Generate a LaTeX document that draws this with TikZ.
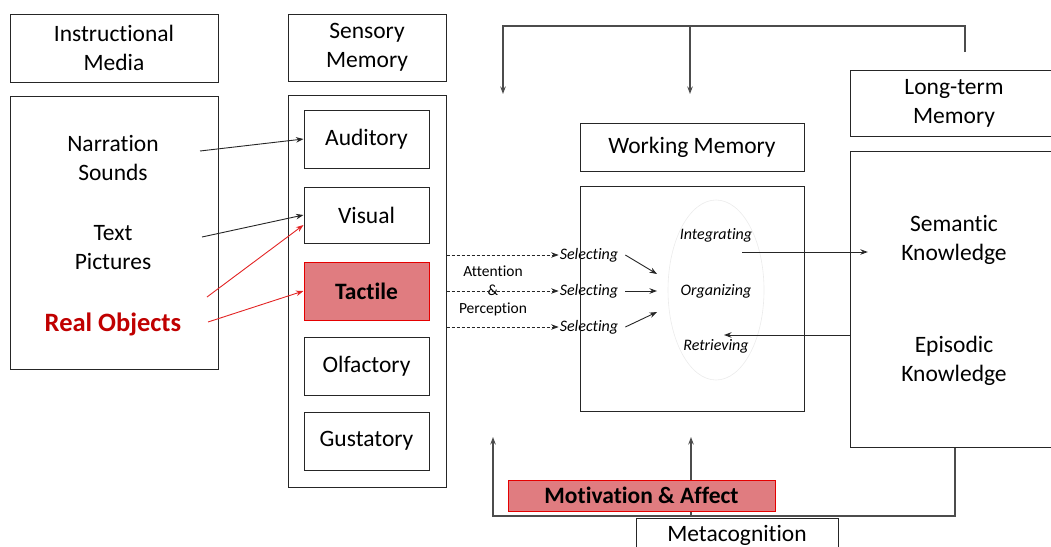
\documentclass[tikz,border=0pt]{standalone}
\usepackage{fontspec}
\setmainfont{Carlito}[Ligatures = NoCommon]
\usepackage{tikz}
\usetikzlibrary{arrows.meta, calc}
\definecolor{boxred}{RGB}{224,124,128}
\definecolor{darkred}{RGB}{192,0,0}
\definecolor{linered}{RGB}{226,36,36}
\tikzset{box/.style = {shape = rectangle, draw = black!85, line width = 1pt, inner sep = 0pt, align = center}}
\tikzset{redbox/.style = {box, draw = red!90!black, fill = boxred, font = \fontsize{23.5}{29}\selectfont\bfseries}}
\tikzset{label/.style = {align = center, inner sep = 1pt}}
\tikzset{small/.style = {align = center, inner sep = 1pt, font = \fontsize{15.5}{18.5}\selectfont}}
\tikzset{proc/.style = {small, font = \fontsize{16}{18.5}\selectfont\itshape}}
\tikzset{edge/.style = {-{Stealth[length = 7.5pt, width = 5.5pt]}, line width = 0.9pt, draw = black!85}}
\tikzset{rededge/.style = {edge, draw = linered}}
\tikzset{dashedge/.style = {edge, dashed, dash pattern = on 3pt off 2pt}}
\tikzset{loop/.style = {edge, line width = 1.1pt, draw = black!70}}

\begin{document}
\begin{tikzpicture}[x = 1pt, y = -1pt, font = \fontsize{23.5}{29}\selectfont]
				\useasboundingbox (0, 0) rectangle (1051, 546);

				\node[box, minimum width = 208, minimum height = 68] (imtitle) at (114, 48) {Instructional\\Media};
				\node[box, minimum width = 208, minimum height = 273] (imbox) at (114, 232.5) {};
				\node[label] (narr) at (113, 158) {Narration\\Sounds};
				\node[label] (txt) at (113, 248) {Text\\Pictures};
				\node[label, text = darkred, font = \fontsize{26.5}{30}\selectfont\bfseries] (real) at (113, 324) {Real Objects};

				\node[box, minimum width = 158, minimum height = 67] (smtitle) at (367, 47.5) {Sensory\\Memory};
				\node[box, minimum width = 158, minimum height = 392] (smbox) at (367, 291) {};
				\node[box, minimum width = 125, minimum height = 58] (aud) at (366.5, 139) {Auditory};
				\node[box, minimum width = 125, minimum height = 56] (vis) at (366.5, 215) {Visual};
				\node[redbox, minimum width = 125, minimum height = 58] (tac) at (366.5, 291) {Tactile};
				\node[box, minimum width = 125, minimum height = 58] (olf) at (366.5, 366) {Olfactory};
				\node[box, minimum width = 125, minimum height = 58] (gus) at (366.5, 441) {Gustatory};

				\node[small] (attn) at (493, 291) {Attention\\\&\\Perception};
				\node[proc] (sel1) at (589, 255) {Selecting};
				\node[proc] (sel2) at (589, 291) {Selecting};
				\node[proc] (sel3) at (589, 327) {Selecting};

				\node[box, minimum width = 224, minimum height = 48] (wmtitle) at (692, 147) {Working Memory};
				\node[box, minimum width = 224, minimum height = 225] (wmbox) at (692, 298.5) {};
				\draw[black!8, line width = 0.6pt] (716, 290) ellipse (48 and 90);
				\node[proc] (integ) at (716, 235) {Integrating};
				\node[proc] (org) at (716, 291) {Organizing};
				\node[proc] (retr) at (716, 346) {Retrieving};

				\node[box, minimum width = 208, minimum height = 66] (ltmtitle) at (954, 103) {Long-term\\Memory};
				\node[box, minimum width = 208, minimum height = 296] (ltmbox) at (954, 299) {};
				\node[label, minimum width = 172] (sem) at (954, 240) {Semantic\\Knowledge};
				\node[label] (epi) at (954, 360.5) {Episodic\\Knowledge};

				\coordinate (narrout) at (200, 151);
				\coordinate (txtout) at (202, 237);
				\coordinate (realout1) at (207, 297);
				\coordinate (realout2) at (208, 322);
				\coordinate (in1) at (657, 274);
				\coordinate (in2) at (657, 291);
				\coordinate (in3) at (657, 312);
				\coordinate (intout) at (742, 252);
				\coordinate (retin) at (724, 335);
				\coordinate (fbstart) at (965, 52);
				\coordinate (fbtop) at (965, 26);
				\coordinate (topL) at (503, 94);
				\coordinate (topM) at (690, 94);
				\coordinate (botR) at (955, 516);
				\coordinate (botL) at (493, 437);
				\coordinate (botM) at (691, 437);

				\draw[edge] (narrout) to (aud.west);
				\draw[edge] (txtout) to (vis.west);
				\draw[rededge] (realout1) to ([yshift = -10pt]vis.west);
				\draw[rededge] (realout2) to (tac.west);

				\draw[dashedge] (smbox.east |- sel1) to (sel1.west);
				\draw[dashedge] (smbox.east |- sel2) to (sel2.west);
				\draw[dashedge] (smbox.east |- sel3) to (sel3.west);
				\draw[edge] ([xshift = 6pt]sel1.east) to (in1);
				\draw[edge] ([xshift = 6pt]sel2.east) to (in2);
				\draw[edge] ([xshift = 6pt]sel3.east) to (in3);

				\draw[edge] (intout) to (sem.west |- intout);
				\draw[edge] (ltmbox.west |- retin) to (retin);

				\draw[loop] (fbstart) -- (fbtop) -| (topL);
				\draw[loop] (fbtop -| topM) -- (topM);
				\draw[loop] (ltmbox.south -| botR) -- (botR) -| (botL);
				\draw[loop] (botR -| botM) -- (botM);

				\node[redbox, minimum width = 267, minimum height = 31] (motiv) at (641.5, 495.5) {Motivation \& Affect};
				\node[box, fill = white, minimum width = 202, minimum height = 34] (meta) at (737, 535) {Metacognition};
			\end{tikzpicture}
\end{document}
